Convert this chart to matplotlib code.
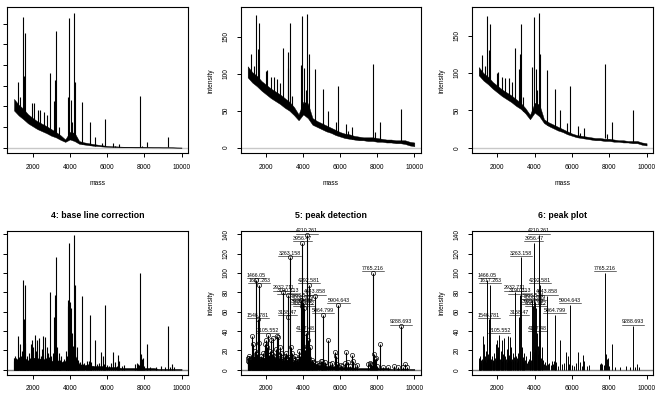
import matplotlib
matplotlib.use("Agg")
import matplotlib.pyplot as plt
import numpy as np

plt.rcParams['font.family'] = ['Liberation Sans', 'DejaVu Sans']

# mass grid for the noise band of each spectrum
grid_mass = [1000, 1250, 1500, 1750, 2000, 2250, 2500, 2750, 3000, 3250,
             3500, 3750, 4000, 4250, 4500, 4750, 5000, 5250, 5500, 5750,
             6000, 6250, 6500, 6750, 7000, 7250, 7500, 7750, 8000, 8250,
             8500, 8750, 9000, 9250, 9500, 9750, 10000]

# 1: raw spectrum
raw_lo = [9000, 7800, 6900, 5900, 5200, 4500, 4000, 3500, 2900, 2500,
          1900, 1400, 2000, 1600, 950, 780, 620, 480, 400, 290,
          220, 170, 140, 120, 100, 100, 80, 80, 64, 64,
          50, 50, 36, 36, 25, 10, 4]
raw_hi = [11800, 10400, 9400, 8100, 7200, 6400, 5800, 5200, 4500, 3800,
          3000, 2000, 3800, 3600, 1600, 1300, 1100, 900, 730, 580,
          440, 360, 320, 260, 220, 200, 200, 200, 170, 144,
          120, 120, 100, 100, 100, 64, 49]

# 2: variance stabilization
sqrt_lo = [95, 88, 83, 77, 72, 67, 63, 59, 54, 50, 44, 37, 45, 40, 31, 28, 25, 22, 20,
           17, 15, 13, 12, 11, 10, 10, 9, 9, 8, 8, 7, 7, 6, 6, 5, 3, 2]
sqrt_hi = [110, 102, 97, 90, 85, 80, 76, 72, 67, 62, 55, 45, 62, 60, 40, 36, 33, 30, 27,
           24, 21, 19, 18, 16, 15, 14, 14, 14, 13, 12, 11, 11, 10, 10, 10, 8, 7]

# 3: smoothing
smooth_lo = [97, 90, 85, 79, 74, 69, 65, 61, 56, 52, 46, 38, 47, 42, 33, 29, 26, 23, 21,
             18, 16, 14, 13, 12, 11, 10, 10, 9, 9, 8, 8, 7, 7, 6, 6, 4, 3]
smooth_hi = [108, 100, 95, 88, 83, 78, 74, 70, 65, 60, 53, 44, 60, 58, 38, 34, 31, 28, 25,
             22, 19, 17, 16, 15, 14, 13, 13, 12, 12, 11, 10, 10, 9, 9, 9, 7, 6]

# 4: base line corrected noise level
corr_hi = [12, 10, 14, 9, 13, 11, 12, 10, 9, 11, 8, 9, 18, 16, 6, 5, 5, 4, 4,
           4, 3, 3, 3, 2, 2, 2, 2, 2, 2, 2, 2, 1, 1, 1, 1, 1, 1]

# spikes of the top row spectra
spike_mass = [1200, 1336, 1466, 1546, 1617, 1966, 2055, 2270, 2412, 2600,
              2760, 2932, 3158, 3190, 3263, 3400, 3883, 3956, 4061, 4127,
              4210, 4292, 4643, 5064, 5337, 5750, 5904, 6300, 6420, 6640,
              7765, 7880, 8150, 9288]
raw_base = [10000, 9000, 8000, 7800, 7400, 6000, 5800, 5000, 4600, 4200,
            3900, 3500, 3000, 2900, 2800, 2400, 2000, 2500, 3000, 2800,
            2500, 2000, 1000, 700, 500, 350, 330, 200, 160, 150,
            100, 90, 70, 50]
raw_top = [15970, 12340, 31700, 17340, 27820, 10700, 10900, 9100, 9100, 8700,
           7900, 18150, 11300, 16370, 28230, 5080, 12340, 31290, 11530, 6300,
           32500, 15970, 11130, 6210, 2660, 1200, 6940, 1050, 500, 800,
           12500, 450, 1370, 2660]
sqrt_base = [100, 96, 90, 88, 86, 78, 76, 70, 67, 64, 61, 58, 54, 53, 52, 48, 45,
             50, 55, 50, 50, 45, 30, 27, 23, 19, 18, 14, 13, 12, 12, 10, 9, 7]
sqrt_top = [127, 111, 179, 133, 168, 103, 105, 95, 95, 93, 88, 135, 107, 129, 169, 70, 112,
            178, 107, 78, 181, 127, 106, 79, 50, 35, 84, 32, 22, 28, 113, 21, 35, 52]
smooth_base = [101, 97, 91, 89, 87, 79, 77, 71, 68, 65, 62, 59, 55, 54, 53, 49, 46,
               51, 56, 51, 51, 46, 31, 28, 24, 20, 19, 15, 14, 13, 13, 11, 10, 8]
smooth_top = [124, 110, 176, 131, 166, 100, 102, 94, 93, 93, 88, 133, 106, 126, 166, 68, 108,
              175, 106, 77, 180, 126, 104, 78, 50, 33, 83, 29, 20, 26, 112, 19, 34, 51]

# detected peaks (panels 4-6)
peak_mass = [1003, 1021, 1045, 1068, 1085, 1110, 1142, 1170, 1211, 1236,
             1262, 1300, 1325, 1352, 1380, 1408, 1440, 1466.05, 1490, 1520,
             1546.781, 1570, 1587, 1617.263, 1645, 1680, 1713, 1745, 1775, 1803,
             1840, 1870, 1900, 1928, 1955, 1982, 2010, 2036, 2068, 2105.552,
             2140, 2170, 2197, 2225, 2251, 2290, 2325, 2359, 2395, 2430,
             2465, 2490, 2520, 2548, 2574, 2610, 2640, 2664, 2700, 2730,
             2753, 2790, 2825, 2860, 2895, 2932.711, 2970, 3005, 3040, 3070,
             3094, 3125, 3158.47, 3190.313, 3225, 3263.158, 3295, 3328, 3360, 3390,
             3417, 3450, 3490, 3543, 3590, 3640, 3686, 3730, 3776, 3815,
             3850, 3883.514, 3921.782, 3956.47, 3985, 4008.639, 4035, 4061.772, 4095, 4127.48,
             4160, 4185, 4210.261, 4235, 4260, 4292.581, 4330, 4368, 4410, 4458,
             4500, 4547, 4600, 4643.858, 4700, 4763, 4850, 4942, 4990, 5032,
             5064.799, 5110, 5157, 5230, 5337, 5445, 5570, 5696, 5767, 5830,
             5904.643, 6018, 6120, 6234, 6306, 6413, 6540, 6610, 6664, 6790,
             6916, 7490, 7580, 7633, 7700, 7765.216, 7820, 7866, 7920, 8000,
             8150, 8300, 8600, 8900, 9100, 9288.693, 9400, 9481, 9600]
peak_int = [12, 9, 14, 8, 12, 10, 7, 11, 35, 9,
            13, 27, 10, 14, 8, 19, 11, 93, 12, 16,
            52, 12, 28, 88, 9, 11, 14, 8, 10, 17,
            9, 12, 10, 27, 14, 31, 18, 24, 12, 36,
            11, 15, 19, 9, 31, 12, 16, 33, 10, 14,
            11, 8, 22, 13, 35, 10, 15, 34, 12, 9,
            24, 11, 17, 9, 13, 80, 10, 14, 8, 12,
            17, 10, 55, 77, 13, 116, 11, 24, 9, 13,
            17, 8, 10, 14, 7, 9, 11, 8, 19, 10,
            14, 72, 66, 131, 18, 70, 22, 64, 20, 38,
            16, 25, 139, 20, 31, 88, 12, 24, 8, 10,
            6, 8, 5, 76, 6, 7, 5, 9, 6, 9,
            57, 5, 8, 4, 31, 6, 7, 18, 14, 6,
            67, 5, 4, 7, 18, 8, 4, 15, 9, 4,
            5, 6, 7, 6, 5, 100, 16, 11, 12, 4,
            27, 3, 3, 4, 3, 45, 3, 6, 3]

label_text = ["1466.05", "1546.781", "1617.263", "2105.552", "2932.711", "3158.47",
              "3190.313", "3263.158", "3883.514", "3921.782", "3956.47", "4008.639",
              "4061.772", "4127.48", "4210.261", "4292.581", "4643.858", "5064.799",
              "5904.643", "7765.216", "9288.693"]

xticks = [2000, 4000, 6000, 8000, 10000]
TICK_FS = 4.8

fig = plt.figure(figsize=(6.59, 4.03), dpi=100)
W, H = 659.0, 403.0


def add_axes(left, top, right, bottom):
    return fig.add_axes([left / W, 1 - bottom / H, (right - left) / W, (bottom - top) / H])


def style(ax, ylim, yticks, show_y=True, ylabel=True, xlabel=True):
    ax.set_xlim(640, 10360)
    ax.set_ylim(*ylim)
    ax.set_xticks(xticks)
    ax.set_yticks(yticks)
    for s in ax.spines.values():
        s.set_linewidth(0.8)
    ax.tick_params(direction='out', length=3, width=0.7, labelsize=TICK_FS)
    ax.tick_params(axis='x', pad=4.5)
    ax.tick_params(axis='y', pad=5, labelrotation=90)
    for t in ax.get_yticklabels():
        t.set_va('center')
    if not show_y:
        ax.set_yticklabels([])
    if xlabel:
        ax.set_xlabel('mass', fontsize=TICK_FS, labelpad=7)
    if ylabel:
        ax.set_ylabel('intensity', fontsize=TICK_FS, labelpad=6)


def spectrum(ax, lo, hi, smass, sbase, stop, zero_col):
    ax.axhline(0, color=zero_col, lw=1.0, zorder=0.5)
    ax.fill_between(grid_mass, lo, hi, color='black', lw=0.3, zorder=2)
    ax.vlines(smass, sbase, stop, color='black', lw=0.8, zorder=2)


# top row
ax1 = add_axes(7.3, 7.3, 188.3, 153.3)
spectrum(ax1, raw_lo, raw_hi, spike_mass, raw_base, raw_top, '#c8c8c8')
style(ax1, (-1355, 33960), [0, 5000, 10000, 15000, 20000, 25000, 30000], show_y=False, ylabel=False)

ax2 = add_axes(241, 7.3, 421, 153.3)
spectrum(ax2, sqrt_lo, sqrt_hi, spike_mass, sqrt_base, sqrt_top, '#c8c8c8')
style(ax2, (-7.6, 189.7), [0, 50, 100, 150])

ax3 = add_axes(472, 7.3, 653.3, 153.3)
spectrum(ax3, smooth_lo, smooth_hi, spike_mass, smooth_base, smooth_top, '#c8c8c8')
style(ax3, (-7.5, 188), [0, 50, 100, 150])

# bottom row
yt = [0, 20, 40, 60, 80, 100, 120, 140]
ylim_b = (-5.3, 143.6)
zeros = [0] * len(grid_mass)
pzero = [0] * len(peak_mass)

ax4 = add_axes(7.3, 230.7, 188.3, 375)
spectrum(ax4, zeros, corr_hi, peak_mass, pzero, peak_int, '#808080')
style(ax4, ylim_b, yt, show_y=False, ylabel=False, xlabel=False)
ax4.set_title('4: base line correction', fontsize=6.3, fontweight='bold', pad=9.5)

ax5 = add_axes(241, 230.7, 421, 375)
spectrum(ax5, zeros, corr_hi, peak_mass, pzero, peak_int, '#808080')
ax5.plot(peak_mass, peak_int, 'o', mfc='none', mec='black', ms=3.0, mew=0.5, zorder=3)
style(ax5, ylim_b, yt, xlabel=False)
ax5.set_title('5: peak detection', fontsize=6.3, fontweight='bold', pad=9.5)

ax6 = add_axes(472, 230.7, 653.3, 375)
ax6.axhline(0, color='#808080', lw=1.0, zorder=0.5)
ax6.vlines(peak_mass, 0, peak_int, color='black', lw=0.7, zorder=2)
style(ax6, ylim_b, yt, xlabel=False)
ax6.set_title('6: peak plot', fontsize=6.3, fontweight='bold', pad=9.5)

# peak labels with underline
label_objs = []
for ax in (ax5, ax6):
    for txt in label_text:
        i = peak_mass.index(float(txt))
        t = ax.text(peak_mass[i], peak_int[i] + 1.9, txt, ha='center', va='bottom',
                    fontsize=3.8, clip_on=False, zorder=4)
        label_objs.append((ax, t, peak_int[i] + 1.6))

fig.canvas.draw()
renderer = fig.canvas.get_renderer()
for ax, t, y in label_objs:
    bb = t.get_window_extent(renderer)
    inv = ax.transData.inverted()
    x0 = inv.transform((bb.x0, bb.y0))[0]
    x1 = inv.transform((bb.x1, bb.y0))[0]
    ax.plot([x0, x1], [y, y], color='black', lw=0.4, zorder=4)

fig.savefig('out.png', dpi=100)
